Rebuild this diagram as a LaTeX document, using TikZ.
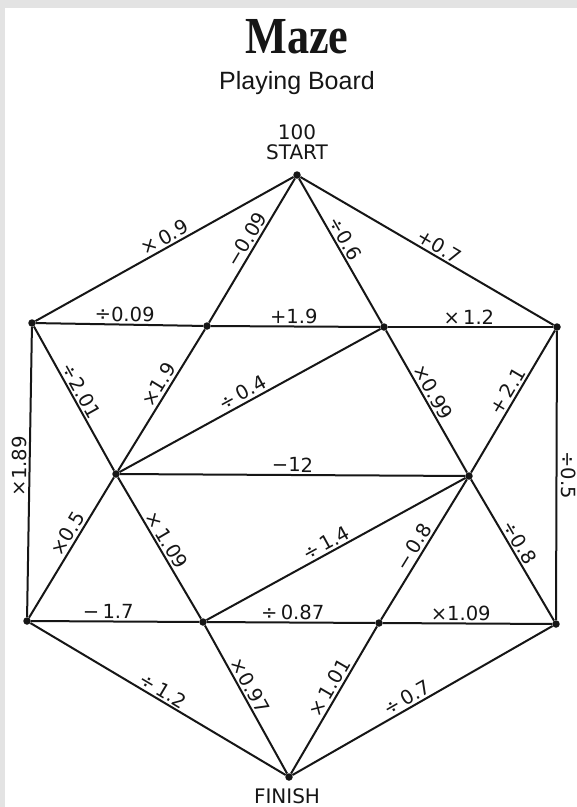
\documentclass[tikz,border=0pt]{standalone}
\usepackage{fontspec}
\setmainfont{DejaVu Sans}
\newfontfamily\titlefont{Liberation Serif}
\newfontfamily\subfont{Liberation Sans}
\definecolor{bggray}{RGB}{227,227,227}
\definecolor{ink}{RGB}{22,22,22}
\begin{document}
\begin{tikzpicture}[x=1pt,y=-1pt,
  dot/.style={circle,fill=ink,inner sep=0pt,minimum size=7.5pt},
  edge/.style={draw=ink,line width=2pt},
  lbl/.style={font=\fontsize{19.5}{21}\selectfont,text=ink,inner sep=2pt,sloped,above},
  txt/.style={font=\fontsize{20}{22}\selectfont,text=ink,anchor=base}]
\fill[bggray] (0,0) rectangle (577,807);
\fill[white] (5,8) rectangle (577,807);
\useasboundingbox (0,0) rectangle (577,807);

% titles
\node[anchor=base,xscale=0.85,text=ink,font=\titlefont\bfseries\fontsize{52}{56}\selectfont] (title) at (297,53) {Maze};
\node[anchor=base,text=ink,font=\subfont\fontsize{25}{28}\selectfont] (sub) at (297,89) {Playing Board};
\node[txt] (hundred) at (297,139) {100};
\node[txt] (start) at (297,159) {START};
\node[txt] (finish) at (287,803) {FINISH};

% vertices
\node[dot] (S) at (297,175) {};
\node[dot] (A) at (32,323) {};
\node[dot] (B) at (207,326) {};
\node[dot] (C) at (384,327) {};
\node[dot] (D) at (557,327) {};
\node[dot] (E) at (116,474) {};
\node[dot] (F) at (469,476) {};
\node[dot] (G) at (27,621) {};
\node[dot] (H) at (203,622) {};
\node[dot] (I) at (379,623) {};
\node[dot] (J) at (556,624) {};
\node[dot] (Fin) at (289,777) {};

% edges
\draw[edge] (A) -- node[lbl,pos=0.52] (l1) {×\,0.9} (S);
\draw[edge] (B) -- node[lbl,pos=0.54] (l2) {−0.09} (S);
\draw[edge] (S) -- node[lbl,pos=0.45] (l3) {÷0.6} (C);
\draw[edge] (S) -- node[lbl,pos=0.53] (l4) {+0.7} (D);
\draw[edge] (A) -- node[lbl,pos=0.53] (l5) {÷0.09} (B);
\draw[edge] (B) -- node[lbl,pos=0.49] (l6) {+1.9} (C);
\draw[edge] (C) -- node[lbl,pos=0.49] (l7) {×\,1.2} (D);
\draw[edge] (A) -- node[lbl,pos=0.48] (l8) {÷2.01} (E);
\draw[edge] (B) -- node[lbl,pos=0.43] (l9) {×1.9} (E);
\draw[edge] (E) -- node[lbl,pos=0.49] (l10) {÷\,0.4} (C);
\draw[edge] (C) -- node[lbl,pos=0.47] (l11) {×0.99} (F);
\draw[edge] (D) -- node[lbl,pos=0.46] (l12) {+\,2.1} (F);
\draw[edge] (A) -- node[lbl,pos=0.48] (l13) {×1.89} (G);
\draw[edge] (D) -- (J);
\node[font=\fontsize{19.5}{21}\selectfont,text=ink,rotate=-90] (l14) at (569,475) {÷0.5};
\draw[edge] (E) -- node[lbl,pos=0.5] (l15) {−12} (F);
\draw[edge] (E) -- node[lbl,pos=0.44] (l16) {×0.5} (G);
\draw[edge] (E) -- node[lbl,pos=0.48] (l17) {×\,1.09} (H);
\draw[edge] (H) -- node[lbl,pos=0.48] (l18) {÷\,1.4} (F);
\draw[edge] (F) -- node[lbl,pos=0.52] (l19) {−\,0.8} (I);
\draw[edge] (F) -- node[lbl,pos=0.48] (l20) {÷0.8} (J);
\draw[edge] (G) -- node[lbl,pos=0.46] (l21) {−\,1.7} (H);
\draw[edge] (H) -- node[lbl,pos=0.51] (l22) {÷\,0.87} (I);
\draw[edge] (I) -- node[lbl,pos=0.46] (l23) {×1.09} (J);
\draw[edge] (G) -- node[lbl,pos=0.5] (l24) {÷\,1.2} (Fin);
\draw[edge] (H) -- node[lbl,pos=0.44] (l25) {×0.97} (Fin);
\draw[edge] (I) -- node[lbl,pos=0.45] (l26) {×\,1.01} (Fin);
\draw[edge] (J) -- node[lbl,pos=0.54] (l27) {÷\,0.7} (Fin);
\end{tikzpicture}
\end{document}
